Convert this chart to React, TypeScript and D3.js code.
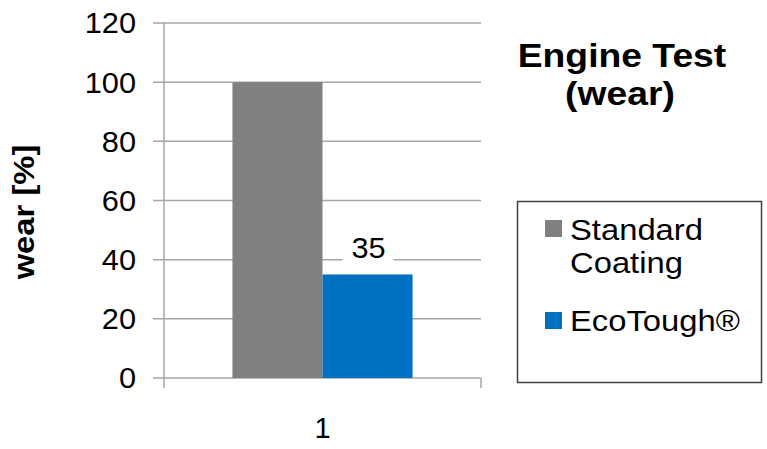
import * as d3 from 'd3';

const categories = ['1'];
const seriesNames = ['Standard Coating', 'EcoTough®'];
const seriesValues = [100, 35];
const seriesColors = ['#808080', '#0070C0'];
const yTicks = [0, 20, 40, 60, 80, 100, 120];

const W = 767;
const H = 449;
const FONT = '"Liberation Sans", Arial, sans-serif';

// text in the reference is a bit wider than plain Arial
const SX = 1.13;

export default function App() {
  const y = d3.scaleLinear().domain([0, 120]).range([378, 23]);
  const x0 = d3.scaleBand().domain(categories).range([164, 481]).paddingInner(0).paddingOuter(0);
  const x1 = d3.scaleBand().domain(seriesNames).range([0, x0.bandwidth()]).paddingInner(0).paddingOuter(0.76);
  const gridColor = '#a6a6a6';
  const lx = (x1(seriesNames[1]) as number) + x1.bandwidth() / 2;

  return (
    <svg width={W} height={H} style={{ position: 'absolute', left: 0, top: 0, background: '#fff' }} fontFamily={FONT}>
      {/* gridlines + y ticks */}
      {yTicks.map(t => (
        <g key={t}>
          <line x1={153} x2={481} y1={y(t)} y2={y(t)} stroke={gridColor} strokeWidth={1.5} />
          <text transform={`translate(136,${y(t)}) scale(1.06,1)`} dy="0.36em" textAnchor="end" fontSize={29} fill="#000">{t}</text>
        </g>
      ))}
      {/* axes */}
      <line x1={164} x2={164} y1={y(120)} y2={388} stroke={gridColor} strokeWidth={1.5} />
      <line x1={481} x2={481} y1={y(0)} y2={388} stroke={gridColor} strokeWidth={1.5} />
      {/* bars */}
      {categories.map(c => (
        <g key={c} transform={`translate(${x0(c)},0)`}>
          {seriesNames.map((s, i) => (
            <rect key={s} x={x1(s)} y={y(seriesValues[i])} width={x1.bandwidth()}
              height={y(0) - y(seriesValues[i])} fill={seriesColors[i]} />
          ))}
          {/* data label for second series */}
          <rect x={lx - 25} y={y(35) - 40} width={51} height={30} fill="#fff" />
          <text transform={`translate(${lx + 1},${y(35) - 16}) scale(1.06,1)`}
            textAnchor="middle" fontSize={29} fill="#000">{seriesValues[1]}</text>
          <text x={x0.bandwidth() / 2} y={438} textAnchor="middle" fontSize={29} fill="#000">{c}</text>
        </g>
      ))}
      {/* y axis title */}
      <text transform={`translate(34,212) rotate(-90) scale(${SX},1)`} textAnchor="middle" fontSize={29} fontWeight="bold"
        fill="#000">wear [%]</text>
      {/* chart title */}
      <text transform={`translate(622,67) scale(${SX},1)`} textAnchor="middle" fontSize={33} fontWeight="bold" fill="#000">Engine Test</text>
      <text transform={`translate(620,105) scale(${SX},1)`} textAnchor="middle" fontSize={33} fontWeight="bold" fill="#000">(wear)</text>
      {/* legend */}
      <rect x={517.5} y={201.5} width={244} height={181} fill="#fff" stroke="#404040" strokeWidth={1.5} />
      <rect x={545} y={220} width={17} height={17} fill={seriesColors[0]} />
      <text transform={`translate(570,240) scale(${SX},1)`} fontSize={29} fill="#000">Standard</text>
      <text transform={`translate(570,273) scale(${SX},1)`} fontSize={29} fill="#000">Coating</text>
      <rect x={545} y={312} width={17} height={17} fill={seriesColors[1]} />
      <text transform={`translate(570,331) scale(${SX},1)`} fontSize={29} fill="#000">{seriesNames[1]}</text>
    </svg>
  );
}
